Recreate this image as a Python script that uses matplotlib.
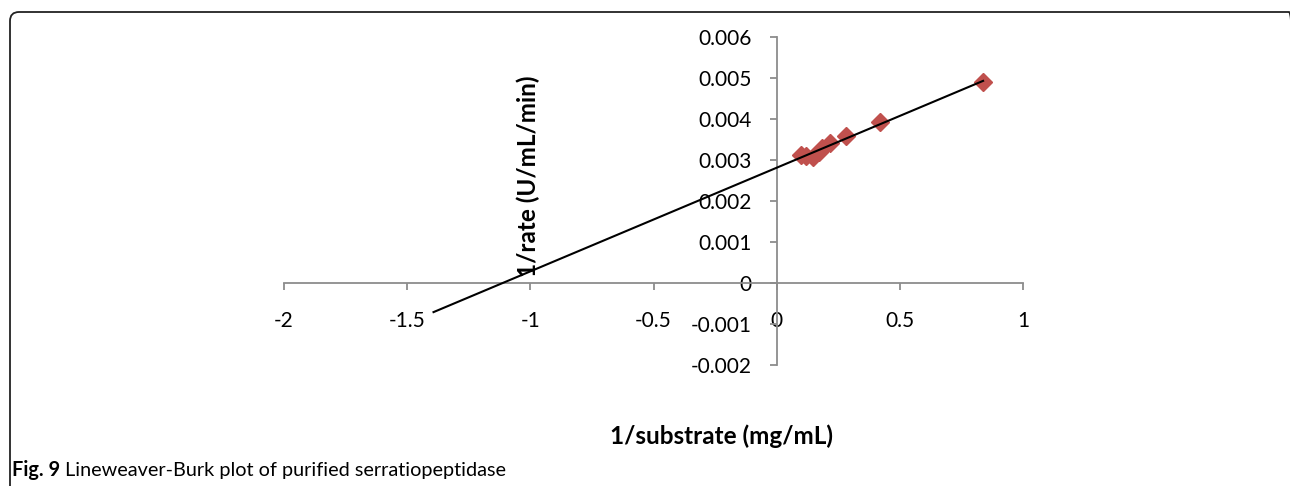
import numpy as np
import matplotlib
matplotlib.use("Agg")
import matplotlib.pyplot as plt
from matplotlib.patches import FancyBboxPatch

plt.rcParams['font.family'] = ['Lato', 'DejaVu Sans']

# data
inv_substrate = [0.097, 0.12, 0.146, 0.17, 0.186, 0.215, 0.283, 0.42, 0.838]
inv_rate = [0.00312, 0.0031, 0.00307, 0.0032, 0.00329, 0.00341, 0.00359, 0.00393, 0.0049]
# trend line ends
trend_x = [-1.393, 0.838]
trend_y = [-0.00071, 0.00493]

x_ticks = [-2, -1.5, -1, -0.5, 0, 0.5, 1]
x_ticklabels = ['-2', '-1.5', '-1', '-0.5', '0', '0.5', '1']
y_ticks = [-0.002, -0.001, 0, 0.001, 0.002, 0.003, 0.004, 0.005, 0.006]
y_ticklabels = ['-0.002', '-0.001', '0', '0.001', '0.002', '0.003', '0.004', '0.005', '0.006']

W, H = 1290, 486
fig = plt.figure(figsize=(W / 100, H / 100), dpi=100)

# rounded frame around the figure panel (right edge outside the image border)
frame = FancyBboxPatch((0.10, -1.0), 12.88, 4.74 + 1.0,
                       boxstyle="round,pad=0,rounding_size=0.09",
                       transform=fig.dpi_scale_trans, fill=False,
                       edgecolor='#222222', linewidth=1.3)
fig.patches.append(frame)

ax = fig.add_axes([284 / W, (H - 365) / H, (1023 - 284) / W, (365 - 37) / H])
ax.set_xlim(-2, 1)
ax.set_ylim(-0.002, 0.006)
ax.patch.set_alpha(0)

ax.spines['left'].set_position(('data', 0))
ax.spines['bottom'].set_position(('data', 0))
ax.spines['top'].set_visible(False)
ax.spines['right'].set_visible(False)
for s in ['left', 'bottom']:
    ax.spines[s].set_color('#8c8c8c')
    ax.spines[s].set_linewidth(1.3)

ax.set_xticks(x_ticks)
ax.set_xticklabels(x_ticklabels)
ax.set_yticks(y_ticks)
ax.set_yticklabels(y_ticklabels)
ax.tick_params(axis='x', direction='out', length=5, width=1.3, color='#8c8c8c',
               labelsize=15, pad=15)
ax.tick_params(axis='y', direction='out', length=5, width=1.3, color='#8c8c8c',
               labelsize=15, pad=13)

ax.plot(inv_substrate, inv_rate, linestyle='none', marker='D', markersize=9.5,
        color='#c0504d', zorder=3)
ax.plot(trend_x, trend_y, color='black', linewidth=1.5, zorder=4)

fig.text(528 / W, 1 - 176 / H, '1/rate (U/mL/min)', rotation=90, ha='center',
         va='center', fontsize=17.5, fontweight='bold')
fig.text(722 / W, 1 - 436 / H, '1/substrate (mg/mL)', ha='center', va='center',
         fontsize=17.5, fontweight='bold')

# caption: bold "Fig. 9" then the rest right after it
cap_y = 1 - 470 / H
t1 = fig.text(12 / W, cap_y, 'Fig. 9', ha='left', va='center', fontsize=14.3,
              fontweight='bold')
renderer = fig.canvas.get_renderer()
bb = t1.get_window_extent(renderer)
fig.text((bb.x1 + 5) / W, cap_y, 'Lineweaver-Burk plot of purified serratiopeptidase',
         ha='left', va='center', fontsize=14.3)

fig.savefig('out.png', dpi=100)
